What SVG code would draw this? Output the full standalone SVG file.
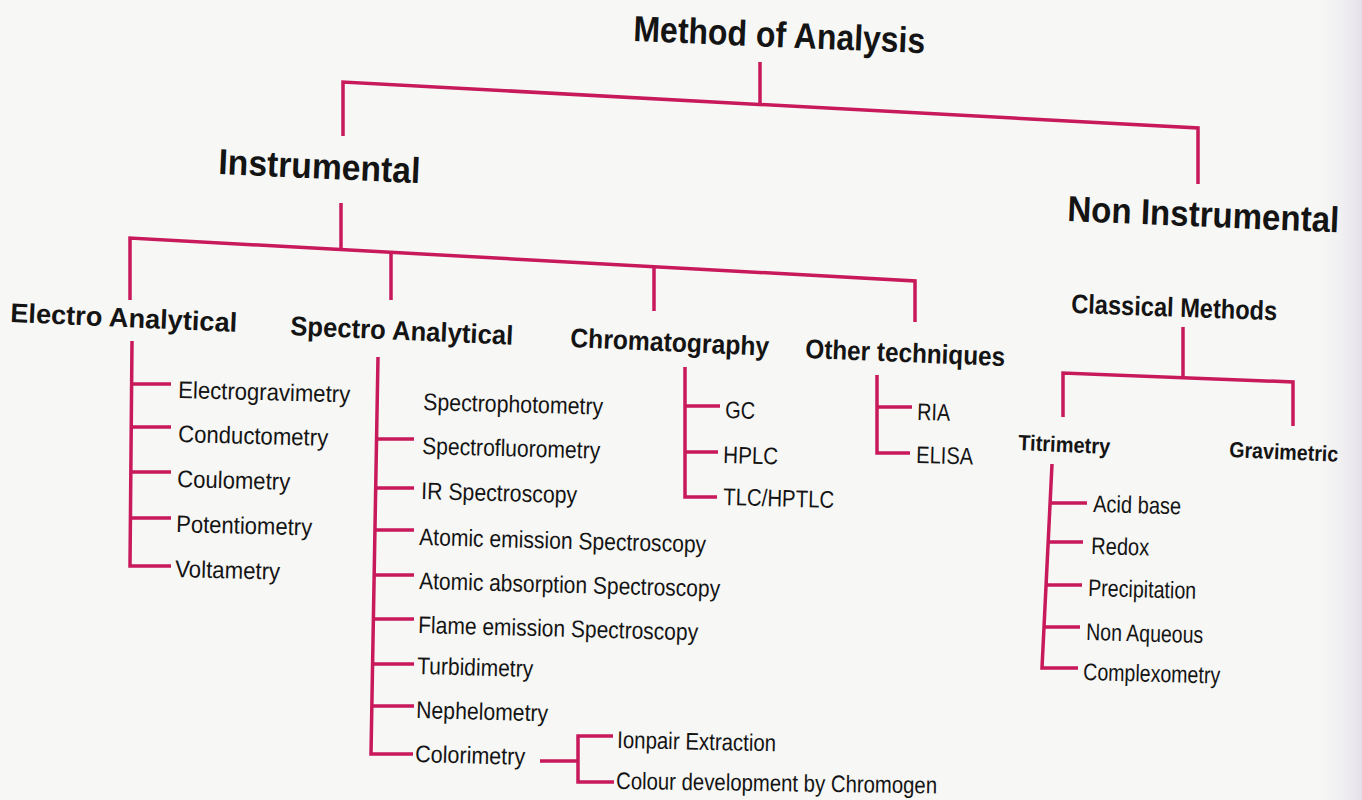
<svg xmlns="http://www.w3.org/2000/svg" width="1362" height="800" viewBox="0 0 1362 800">
<defs>
<style>
.t{font-family:"Liberation Sans",Arial,sans-serif;fill:#141414}
.h1{font-size:36px;font-weight:bold}
.h2{font-size:27px;font-weight:bold}
.h3{font-size:22px;font-weight:bold}
.lf{font-size:24px}
.c{stroke:#c8195b;stroke-width:3.5;fill:none;stroke-linecap:butt;stroke-linejoin:miter}
</style>
<linearGradient id="edge" x1="0" y1="0" x2="1" y2="0">
<stop offset="0" stop-color="#f7f7f5" stop-opacity="0"/>
<stop offset="1" stop-color="#e4e0ea"/>
</linearGradient>
</defs>
<rect x="0" y="0" width="1362" height="800" fill="#f7f7f5"/>
<rect x="1310" y="0" width="52" height="800" fill="url(#edge)"/>

<g id="connectors">
<path class="c" d="M760,62 V104"/>
<path class="c" d="M343,136 V82 L1198,128 V184"/>
<path class="c" d="M341,203 V250"/>
<path class="c" d="M130,300 V238 L915,281 V322"/>
<path class="c" d="M391,252 V300"/>
<path class="c" d="M654,267 V311"/>
<path class="c" d="M132,341 L130,566 H171"/>
<path class="c" d="M131,384 H171 M131,427 H171 M131,472 H171 M130,518 H171"/>
<path class="c" d="M378,357 L371,754 H413"/>
<path class="c" d="M376,439 H414 M375,488 H414 M375,530 H414 M374,575 H414 M373,619 H414 M372,664 H414 M372,706 H414"/>
<path class="c" d="M540,761 H578 M613,736 H578 V782 H614"/>
<path class="c" d="M685,367 V497 H717 M685,406 H720 M685,452 H718"/>
<path class="c" d="M877,375 V453 H910 M877,407 H912"/>
<path class="c" d="M1183,327 V377"/>
<path class="c" d="M1063,417 V373 L1293,382 V426"/>
<path class="c" d="M1052,464 L1042,668 H1078 M1050,503 H1087 M1048,542 H1083 M1046,585 H1082 M1044,627 H1080"/>
</g>

<g id="method"><text class="t h1" x="633" y="41" textLength="292" lengthAdjust="spacingAndGlyphs" transform="rotate(2.4 633 41)">Method of Analysis</text></g>
<g id="instrumental"><text class="t h1" x="218" y="174" textLength="202" lengthAdjust="spacingAndGlyphs" transform="rotate(2.6 218 174)">Instrumental</text></g>
<g id="non-instrumental"><text class="t h1" x="1067" y="221" font-size="35" textLength="272" lengthAdjust="spacingAndGlyphs" transform="rotate(2.4 1067 221)">Non Instrumental</text></g>

<g id="electro"><text class="t h2" x="10" y="322" textLength="227" lengthAdjust="spacingAndGlyphs" transform="rotate(2.5 10 322)">Electro Analytical</text></g>
<g id="spectro"><text class="t h2" x="290" y="335" textLength="223" lengthAdjust="spacingAndGlyphs" transform="rotate(2.5 290 335)">Spectro Analytical</text></g>
<g id="chromatography"><text class="t h2" x="570" y="347" textLength="199" lengthAdjust="spacingAndGlyphs" transform="rotate(2.5 570 347)">Chromatography</text></g>
<g id="other"><text class="t h2" x="805" y="358" textLength="200" lengthAdjust="spacingAndGlyphs" transform="rotate(2.3 805 358)">Other techniques</text></g>
<g id="classical"><text class="t h2" x="1071" y="313" font-size="25" textLength="206" lengthAdjust="spacingAndGlyphs" transform="rotate(2 1071 313)">Classical Methods</text></g>
<g id="titrimetry"><text class="t h3" x="1018" y="450" textLength="92" lengthAdjust="spacingAndGlyphs" transform="rotate(2.5 1018 450)">Titrimetry</text></g>
<g id="gravimetric"><text class="t h3" x="1229" y="457" textLength="109" lengthAdjust="spacingAndGlyphs" transform="rotate(2.5 1229 457)">Gravimetric</text></g>

<g id="electro-items">
<text class="t lf" x="178" y="398" textLength="172" lengthAdjust="spacingAndGlyphs" transform="rotate(1.5 178 398)">Electrogravimetry</text>
<text class="t lf" x="178" y="442" textLength="150" lengthAdjust="spacingAndGlyphs" transform="rotate(1.5 178 442)">Conductometry</text>
<text class="t lf" x="177" y="487" textLength="113" lengthAdjust="spacingAndGlyphs" transform="rotate(1.5 177 487)">Coulometry</text>
<text class="t lf" x="176" y="532" textLength="136" lengthAdjust="spacingAndGlyphs" transform="rotate(1.5 176 532)">Potentiometry</text>
<text class="t lf" x="175" y="577" textLength="105" lengthAdjust="spacingAndGlyphs" transform="rotate(1.5 175 577)">Voltametry</text>
</g>

<g id="spectro-items">
<text class="t lf" x="423" y="410" textLength="180" lengthAdjust="spacingAndGlyphs" transform="rotate(1.5 423 410)">Spectrophotometry</text>
<text class="t lf" x="422" y="454" textLength="178" lengthAdjust="spacingAndGlyphs" transform="rotate(1.5 422 454)">Spectrofluorometry</text>
<text class="t lf" x="421" y="499" textLength="156" lengthAdjust="spacingAndGlyphs" transform="rotate(1.5 421 499)">IR Spectroscopy</text>
<text class="t lf" x="419" y="545" textLength="287" lengthAdjust="spacingAndGlyphs" transform="rotate(1.5 419 545)">Atomic emission Spectroscopy</text>
<text class="t lf" x="419" y="589" textLength="301" lengthAdjust="spacingAndGlyphs" transform="rotate(1.5 419 589)">Atomic absorption Spectroscopy</text>
<text class="t lf" x="418" y="633" textLength="280" lengthAdjust="spacingAndGlyphs" transform="rotate(1.5 418 633)">Flame emission Spectroscopy</text>
<text class="t lf" x="417" y="674" textLength="116" lengthAdjust="spacingAndGlyphs" transform="rotate(1.5 417 674)">Turbidimetry</text>
<text class="t lf" x="416" y="718" textLength="132" lengthAdjust="spacingAndGlyphs" transform="rotate(1.5 416 718)">Nephelometry</text>
<text class="t lf" x="415" y="762" textLength="110" lengthAdjust="spacingAndGlyphs" transform="rotate(1.5 415 762)">Colorimetry</text>
</g>

<g id="colorimetry-items">
<text class="t lf" x="617" y="748" textLength="159" lengthAdjust="spacingAndGlyphs" transform="rotate(1.2 617 748)">Ionpair Extraction</text>
<text class="t lf" x="616" y="789" textLength="321" lengthAdjust="spacingAndGlyphs" transform="rotate(0.8 616 789)">Colour development by Chromogen</text>
</g>

<g id="chromatography-items">
<text class="t lf" x="725" y="418" textLength="30" lengthAdjust="spacingAndGlyphs" transform="rotate(1.5 725 418)">GC</text>
<text class="t lf" x="723" y="463" textLength="55" lengthAdjust="spacingAndGlyphs" transform="rotate(1.5 723 463)">HPLC</text>
<text class="t lf" x="723" y="505" textLength="111" lengthAdjust="spacingAndGlyphs" transform="rotate(1.5 723 505)">TLC/HPTLC</text>
</g>

<g id="other-items">
<text class="t lf" x="917" y="420" textLength="33" lengthAdjust="spacingAndGlyphs" transform="rotate(1.5 917 420)">RIA</text>
<text class="t lf" x="916" y="463" textLength="57" lengthAdjust="spacingAndGlyphs" transform="rotate(1.5 916 463)">ELISA</text>
</g>

<g id="titrimetry-items">
<text class="t lf" x="1093" y="512" textLength="88" lengthAdjust="spacingAndGlyphs" transform="rotate(1.5 1093 512)">Acid base</text>
<text class="t lf" x="1091" y="554" textLength="58" lengthAdjust="spacingAndGlyphs" transform="rotate(1.5 1091 554)">Redox</text>
<text class="t lf" x="1088" y="596" textLength="108" lengthAdjust="spacingAndGlyphs" transform="rotate(1.5 1088 596)">Precipitation</text>
<text class="t lf" x="1086" y="640" textLength="117" lengthAdjust="spacingAndGlyphs" transform="rotate(1.5 1086 640)">Non Aqueous</text>
<text class="t lf" x="1083" y="680" textLength="137" lengthAdjust="spacingAndGlyphs" transform="rotate(1.5 1083 680)">Complexometry</text>
</g>
</svg>
